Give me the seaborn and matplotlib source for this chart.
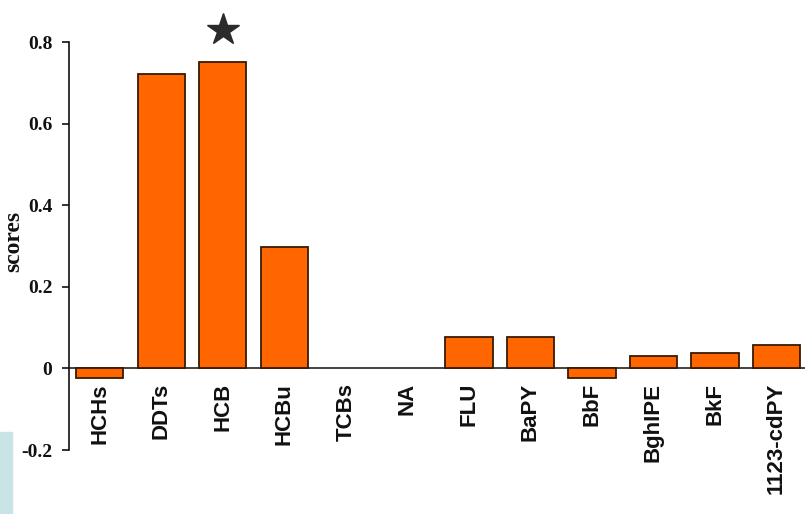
import matplotlib
matplotlib.use("Agg")
import matplotlib.pyplot as plt
import seaborn as sns
import pandas as pd
from matplotlib.patches import Rectangle

# valores
compounds = ["HCHs", "DDTs", "HCB", "HCBu", "TCBs", "NA", "FLU", "BaPY",
             "BbF", "BghIPE", "BkF", "1123-cdPY"]
scores = [-0.024, 0.722, 0.752, 0.297, 0.0, 0.0, 0.076, 0.076,
          -0.024, 0.031, 0.038, 0.058]
star_compound = "HCB"
star_score = 0.83
y_ticks = [-0.2, 0, 0.2, 0.4, 0.6, 0.8]
y_tick_labels = ["-0.2", "0", "0.2", "0.4", "0.6", "0.8"]

df = pd.DataFrame({"compound": compounds, "score": scores})

sns.set_style("white")
fig = plt.figure(figsize=(8.05, 5.14), dpi=100)
ax = fig.add_axes([0.0857, 0.1245, 0.917, 0.7935])

sns.barplot(data=df, x="compound", y="score", color="#ff6600",
            saturation=1, width=0.77, edgecolor="#3a1a00", linewidth=1.3,
            ax=ax)
# barras com valor zero não aparecem no original
for p in ax.patches:
    if p.get_height() == 0:
        p.set_linewidth(0)

ax.set_xlim(-0.5, 11.5)
ax.set_ylim(-0.2, 0.8)
ax.axhline(0, color="#222222", lw=1.2, zorder=0)

for s in ["top", "right", "bottom"]:
    ax.spines[s].set_visible(False)
ax.spines["left"].set_color("#111111")
ax.spines["left"].set_linewidth(1.2)

ax.set_yticks(y_ticks)
ax.set_yticklabels(y_tick_labels, fontfamily="Liberation Serif",
                   fontweight="bold", fontsize=14)
ax.tick_params(axis="y", direction="out", length=5, width=1.2, pad=7,
               colors="#111111", left=True)

# rótulos do eixo x abaixo da linha do zero
ax.set_xticks([])
ax.set_xlabel("")
for i, name in enumerate(compounds):
    ax.text(i, -0.036, name, rotation=90, ha="center", va="top",
            fontfamily="Liberation Sans", fontweight="bold", fontsize=16,
            color="#111111")

ax.set_ylabel("scores", fontfamily="Liberation Serif", fontweight="bold",
              fontsize=17, color="#111111")
ax.yaxis.set_label_coords(-0.061, 0.512)

# estrela de destaque
ax.plot(compounds.index(star_compound), star_score, marker="*",
        markersize=24, color="#2b2b2b", clip_on=False)

# detalhe decorativo no canto
fig.patches.append(Rectangle((0, 0), 0.015, 0.16, transform=fig.transFigure,
                             color="#c8e4e6", zorder=0))

fig.savefig("out.png", dpi=100)
